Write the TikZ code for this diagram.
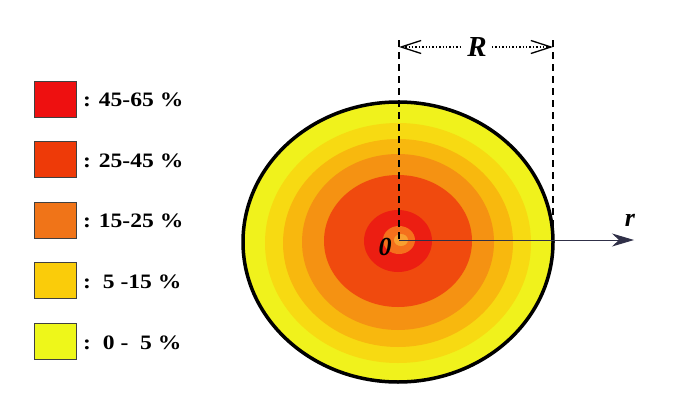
\documentclass[tikz,border=0pt]{standalone}
\usepackage{fontspec}
\setmainfont{Liberation Serif}
\newfontfamily\legfont[FakeStretch=1.15]{Liberation Serif}
\usetikzlibrary{arrows.meta}
\definecolor{lgA}{HTML}{EE1010}
\definecolor{lgB}{HTML}{EE3A08}
\definecolor{lgC}{HTML}{F07418}
\definecolor{lgD}{HTML}{FACC0A}
\definecolor{lgE}{HTML}{EEF71A}
\definecolor{rgA}{HTML}{F0F21C}
\definecolor{rgB}{HTML}{F7DA12}
\definecolor{rgC}{HTML}{F8B80E}
\definecolor{rgD}{HTML}{F59212}
\definecolor{rgE}{HTML}{F04A0E}
\definecolor{rgF}{HTML}{EC1E12}
\definecolor{rgG}{HTML}{F5701C}
\definecolor{rgH}{HTML}{F8A030}
\definecolor{axcol}{HTML}{303048}
\begin{document}
\begin{tikzpicture}[x=1pt,y=-1pt,
  legbox/.style={draw=black!75, line width=1pt, minimum width=42pt, minimum height=36pt, inner sep=0pt},
  legtext/.style={anchor=west, inner sep=0pt, font=\legfont\fontsize{20.5}{22}\selectfont\bfseries},
  dimline/.style={dashed, dash pattern=on 7pt off 5pt, line width=1.6pt},
  biglabel/.style={inner sep=0pt, font=\fontsize{29}{30}\selectfont\bfseries\itshape}]
\useasboundingbox (0,0) rectangle (693,415);
\fill[white] (0,0) rectangle (693,415);
% legend
\node[legbox, fill=lgA] (bA) at (55,99) {};
\node[legbox, fill=lgB] (bB) at (55,159.5) {};
\node[legbox, fill=lgC] (bC) at (55,220) {};
\node[legbox, fill=lgD] (bD) at (55,280.5) {};
\node[legbox, fill=lgE] (bE) at (55,341.5) {};
\node[legtext] (tA) at (83,100) {: 45-65 \%};
\node[legtext] (tB) at (83,160.5) {: 25-45 \%};
\node[legtext] (tC) at (83,221) {: 15-25 \%};
\node[legtext] (tD) at (83,281.5) {:\ \ 5 -15 \%};
\node[legtext] (tE) at (83,342.5) {:\ \ 0 -\ \ 5 \%};
% rings
\coordinate (C) at (398,242);
\fill[rgA] (C) ellipse [x radius=155pt, y radius=140pt];
\fill[rgB] (398,243) ellipse [x radius=133pt, y radius=120pt];
\fill[rgC] (398,243) ellipse [x radius=115pt, y radius=104pt];
\fill[rgD] (398,242) ellipse [x radius=96pt, y radius=88pt];
\fill[rgE] (398,241) ellipse [x radius=74pt, y radius=66pt];
\fill[rgF] (398,241) ellipse [x radius=34pt, y radius=31pt];
\fill[rgG] (399,240) ellipse [x radius=16pt, y radius=14pt];
\fill[rgH] (401,240) ellipse [x radius=7pt, y radius=6pt];
\draw[line width=3.5pt] (C) ellipse [x radius=155pt, y radius=140pt];
% dimension
\coordinate (O) at (399,240);
\coordinate (Ltop) at (399,40);
\coordinate (Rtop) at (553,40);
\coordinate (Lmid) at (399,47);
\coordinate (Rmid) at (553,47);
\coordinate (Rbot) at (553,240);
\draw[dimline] (Ltop) -- (O);
\draw[dimline] (Rtop) -- (Rbot);
\node[biglabel] (R) at (477,47) {R};
\draw[dotted, line width=1.4pt, {Straight Barb[length=20pt,width=13pt,line width=1.3pt]}-] (Lmid) -- (R.west -| 462,47);
\draw[dotted, line width=1.4pt, -{Straight Barb[length=20pt,width=13pt,line width=1.3pt]}] (R.east -| 492,47) -- (Rmid);
% r axis
\coordinate (Rend) at (634,240);
\draw[axcol, line width=1pt, -{Stealth[length=22pt,width=13pt,inset=7pt]}] (O) -- (Rend);
\node[biglabel, font=\fontsize{26}{28}\selectfont\bfseries\itshape] (rl) at (630,220) {r};
\node[biglabel, font=\fontsize{26}{28}\selectfont\bfseries\itshape] (zero) at (385,247) {0};
\end{tikzpicture}
\end{document}
